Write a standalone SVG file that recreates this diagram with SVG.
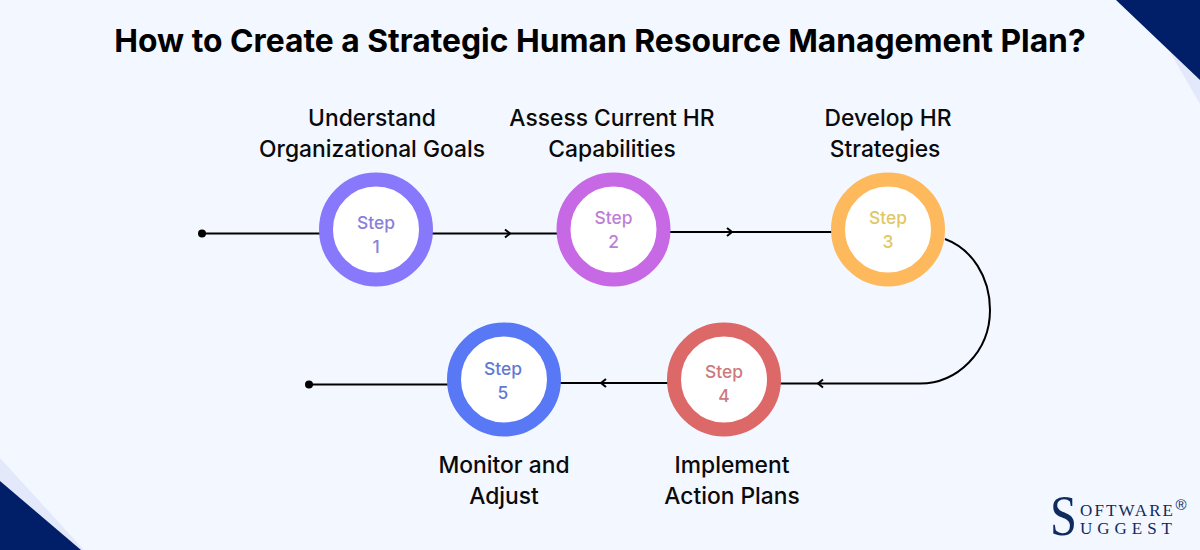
<svg xmlns="http://www.w3.org/2000/svg" width="1200" height="550" viewBox="0 0 1200 550">
<style>
text{font-family:Inter,"Liberation Sans",sans-serif}
.title{font-size:31.8px;font-weight:700;fill:#000;text-anchor:middle}
.label{font-size:22.8px;font-weight:500;fill:#0a0a0a;text-anchor:middle}
.step{font-size:17.4px;font-weight:500;text-anchor:middle}
.ring{fill:#fff;stroke-width:14}
.line{fill:none;stroke:#000;stroke-width:2}
.arrow{fill:none;stroke:#000;stroke-width:2}
.logo{font-family:"Liberation Serif",serif;fill:#0f2a5c}
</style>
<rect width="1200" height="550" fill="#f3f7ff"/>
<polygon points="1140,0 1200,104 1200,80 1116,0" fill="#e3e9fb"/>
<polygon points="1116,0 1200,80 1200,0" fill="#001f68"/>
<polygon points="0,458 0,481 72,550 84,550" fill="#e3e9fb"/>
<polygon points="0,481 0,550 81,550" fill="#001f68"/>
<text class="title" x="600" y="51.500">How to Create a Strategic Human Resource Management Plan?</text>
<g id="connectors">
<circle cx="202" cy="233.500" r="4" fill="#000"/>
<path class="line" d="M202 233.500H320"/>
<path class="line" d="M432 233.500H558"/>
<path class="arrow" d="M505 229.500L510 233.500L505 237.500"/>
<path class="line" d="M670 232H832"/>
<path class="arrow" d="M727 228L732 232L727 236"/>
<path class="line" d="M945 239C972 249 990 277 990 310C990 352 957 383.500 920 383.500H780"/>
<path class="arrow" d="M823 379.500L818 383.500L823 387.500"/>
<path class="line" d="M668 383H560"/>
<path class="arrow" d="M606 379L601 383L606 387"/>
<path class="line" d="M448 384.500H309"/>
<circle cx="309" cy="384.500" r="4" fill="#000"/>
</g>
<g id="step1">
<circle class="ring" cx="376" cy="229.500" r="50" stroke="#8878fb"/>
<text class="step" x="376" y="228.500" fill="#8a7fd8">Step</text>
<text class="step" x="376" y="252.500" fill="#8a7fd8">1</text>
<text class="label" x="372" y="125.500">Understand</text>
<text class="label" x="372" y="156.500">Organizational Goals</text>
</g>
<g id="step2">
<circle class="ring" cx="613.500" cy="229.500" r="50" stroke="#c768e4"/>
<text class="step" x="613.500" y="223.500" fill="#bd7fd6">Step</text>
<text class="step" x="613.500" y="247.500" fill="#bd7fd6">2</text>
<text class="label" x="612" y="125.500">Assess Current HR</text>
<text class="label" x="612" y="156.500">Capabilities</text>
</g>
<g id="step3">
<circle class="ring" cx="888" cy="229.500" r="50" stroke="#fdb95c"/>
<text class="step" x="888" y="223.500" fill="#e0c767">Step</text>
<text class="step" x="888" y="247.500" fill="#e0c767">3</text>
<text class="label" x="888" y="125.500">Develop HR</text>
<text class="label" x="885" y="156.500">Strategies</text>
</g>
<g id="step4">
<circle class="ring" cx="724" cy="379.500" r="50" stroke="#dd6868"/>
<text class="step" x="724" y="377.500" fill="#cc7a7a">Step</text>
<text class="step" x="724" y="401.500" fill="#cc7a7a">4</text>
<text class="label" x="732" y="472.500">Implement</text>
<text class="label" x="732" y="503.500">Action Plans</text>
</g>
<g id="step5">
<circle class="ring" cx="504" cy="379.500" r="50" stroke="#5878f5"/>
<text class="step" x="503" y="374.500" fill="#5f7ad6">Step</text>
<text class="step" x="503" y="398.500" fill="#5f7ad6">5</text>
<text class="label" x="504" y="472.500">Monitor and</text>
<text class="label" x="504" y="503.500">Adjust</text>
</g>
<g id="logo">
<text class="logo" transform="translate(1050,535) scale(.85,1)" font-size="57">S</text>
<text class="logo" x="1080" y="516" font-size="17" textLength="93">OFTWARE</text>
<text x="1175.500" y="509.500" font-size="15" fill="#0f2a5c" style="font-family:'Liberation Sans',sans-serif">®</text>
<text class="logo" x="1080" y="534" font-size="17" textLength="92">UGGEST</text>
</g>
</svg>
